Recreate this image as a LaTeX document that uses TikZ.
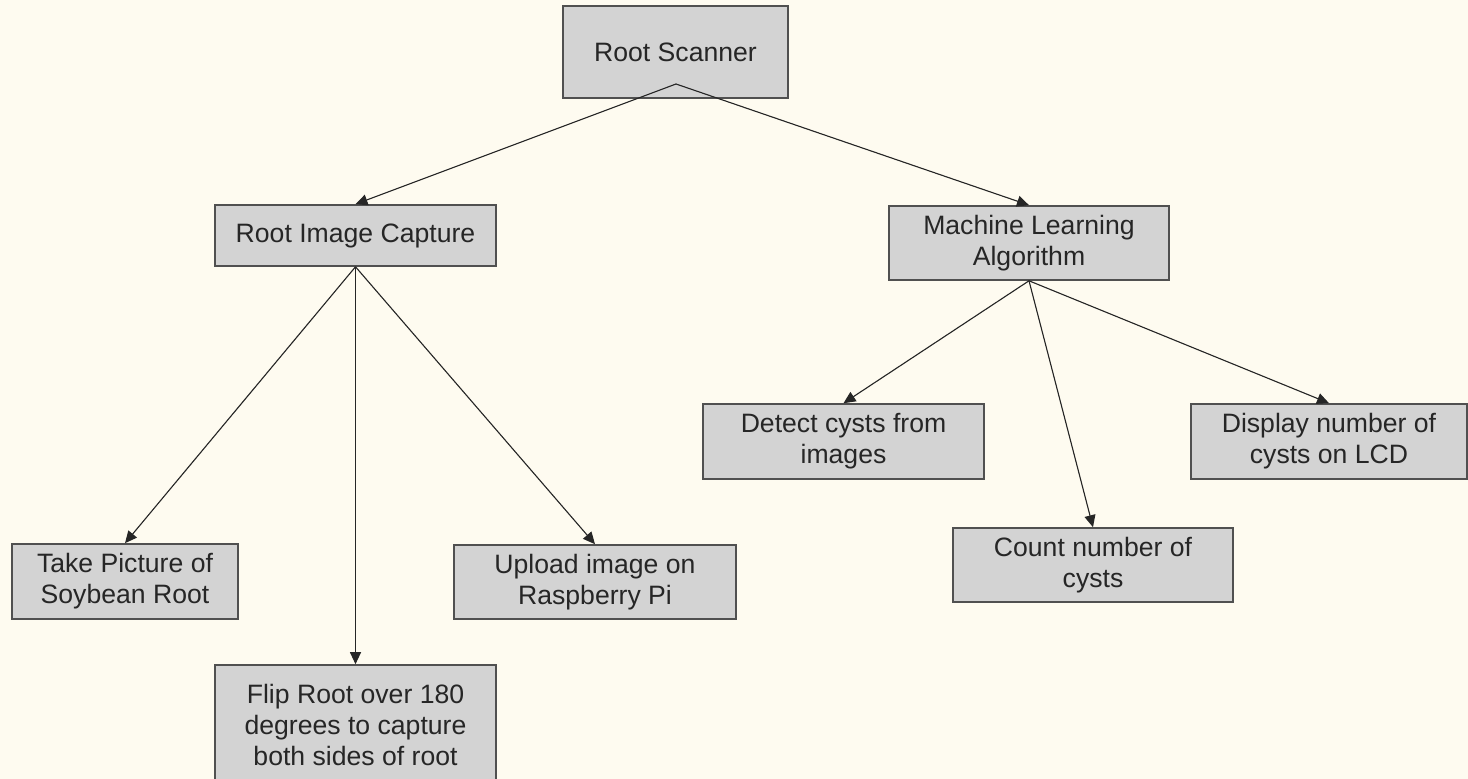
\documentclass[tikz,border=0pt]{standalone}
\usepackage{fontspec}
\setmainfont{Liberation Sans}
\usetikzlibrary{arrows.meta, positioning}
\definecolor{cPaper}{RGB}{254,251,240}
\definecolor{cBox}{RGB}{211,211,211}
\definecolor{cEdge}{RGB}{80,80,80}
\definecolor{cInk}{RGB}{38,38,38}
\tikzset{
	taskbox/.style  ={rectangle, draw=cEdge, fill=cBox, line width=0.8pt, text=cInk, align=center, inner sep=0pt},
	treearrow/.style={-{Triangle[length=6pt, width=5.5pt]}, line width=0.55pt, draw=cInk, fill=cInk},
}

\begin{document}
\begin{tikzpicture}[x=0.5pt, y=-0.5pt, font=\fontsize{13.3}{15.5}\selectfont]
	\useasboundingbox (0,0) rectangle (1468,779);
	\fill[cPaper] (0,0) rectangle (1468,779);
	% top level
	\node[taskbox, minimum width=112.5pt, minimum height=46pt] (scanner) at (675.5,52) {Root Scanner};
	\coordinate (scanfork) at (676,84);
	% second level
	\node[taskbox, minimum width=140.5pt, minimum height=30.5pt] (capture) at (355.5,235.5) {Root Image Capture};
	\node[taskbox, minimum width=140pt, minimum height=37pt] (mlalgo) at (1029,243) {Machine Learning\\Algorithm};
	% image capture steps
	\node[taskbox, minimum width=113pt, minimum height=37.5pt] (takepic) at (125,581.5) {Take Picture of\\Soybean Root};
	\node[taskbox, minimum width=140.5pt, minimum height=60pt] (flip) at (355.5,725) {Flip Root over 180\\degrees to capture\\both sides of root};
	\node[taskbox, minimum width=141pt, minimum height=37pt] (upload) at (595,582) {Upload image on\\Raspberry Pi};
	% algorithm steps
	\node[taskbox, minimum width=140.5pt, minimum height=37.5pt] (detect) at (843.5,441.5) {Detect cysts from\\images};
	\node[taskbox, minimum width=140pt, minimum height=37pt] (count) at (1093,565) {Count number of\\cysts};
	\node[taskbox, minimum width=138pt, minimum height=37.5pt] (display) at (1329,441.5) {Display number of\\cysts on LCD};
	\draw[treearrow] (scanfork) -- (capture.north);
	\draw[treearrow] (scanfork) -- (mlalgo.north);
	\foreach \kid in {takepic, flip, upload} \draw[treearrow] (capture.south) -- (\kid.north);
	\foreach \kid in {detect, count, display} \draw[treearrow] (mlalgo.south) -- (\kid.north);
\end{tikzpicture}
\end{document}
